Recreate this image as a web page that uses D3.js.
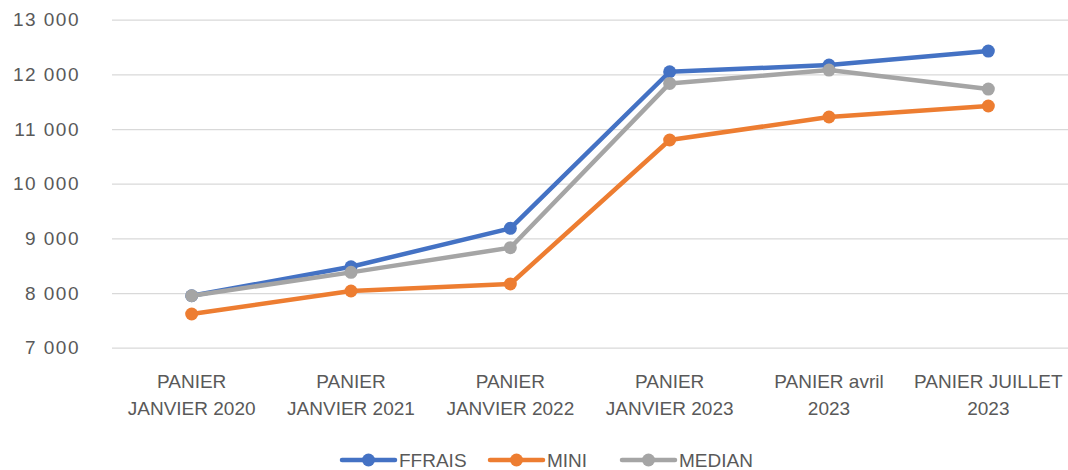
<!DOCTYPE html>
<html><head><meta charset="utf-8">
<script src="https://cdn.jsdelivr.net/npm/d3@7"></script>
<style>body{margin:0;background:#fff}svg{display:block}text{font-family:"Liberation Sans",Arial,sans-serif;fill:#595959}</style>
</head><body><svg id="c" width="1068" height="470"></svg>
<script>
const categories = [["PANIER","JANVIER 2020"],["PANIER","JANVIER 2021"],["PANIER","JANVIER 2022"],["PANIER","JANVIER 2023"],["PANIER avril","2023"],["PANIER JUILLET","2023"]];
const seriesNames = ["FFRAIS","MINI","MEDIAN"];
const ffrais = [7950, 8480, 9183, 12048, 12170, 12426];
const mini = [7616, 8037, 8165, 10799, 11220, 11421];
const median = [7950, 8378, 8829, 11835, 12079, 11731];
const yTicks = [7000, 8000, 9000, 10000, 11000, 12000, 13000];
const colors = ["#4472C4", "#ED7D31", "#A5A5A5"];

const svg = d3.select("#c");
const x = d3.scaleBand().domain(d3.range(categories.length)).range([112, 1068]);
const y = d3.scaleLinear().domain([7000, 13000]).range([347.7, 19.7]);
const fmt = v => d3.format(",")(v).replace(",", " ");

const yAxis = svg.append("g").attr("transform", "translate(112,0)")
  .call(d3.axisLeft(y).tickValues(yTicks).tickSize(-956).tickFormat(fmt).tickPadding(32));
yAxis.select(".domain").remove();
yAxis.selectAll("line").attr("stroke", "#d9d9d9").attr("stroke-width", 1.3);
yAxis.selectAll("text").attr("font-size", 19).attr("letter-spacing", 1.5)
  .style("font-family", "'Liberation Sans',Arial,sans-serif").attr("fill", "#595959");

const xg = svg.append("g");
categories.forEach((c, i) => {
  const cx = x(i) + x.bandwidth() / 2;
  const t = xg.append("text").attr("text-anchor", "middle").attr("font-size", 19).attr("y", 388);
  t.append("tspan").attr("x", cx).text(c[0]);
  t.append("tspan").attr("x", cx).attr("dy", 27).text(c[1]);
});

const data = [ffrais, mini, median];
const line = d3.line().x((d, i) => x(i) + x.bandwidth() / 2).y(d => y(d));
data.forEach((s, k) => {
  svg.append("path").datum(s).attr("d", line).attr("fill", "none")
    .attr("stroke", colors[k]).attr("stroke-width", 4.5).attr("stroke-linejoin", "round").attr("stroke-linecap", "round");
  svg.append("g").selectAll("circle").data(s).join("circle")
    .attr("cx", (d, i) => x(i) + x.bandwidth() / 2).attr("cy", d => y(d)).attr("r", 6.5).attr("fill", colors[k]);
});

const legX = [340, 488, 620];
seriesNames.forEach((n, k) => {
  const g = svg.append("g").attr("transform", `translate(${legX[k]},460)`);
  g.append("line").attr("x1", 2).attr("x2", 55).attr("stroke", colors[k]).attr("stroke-width", 4.5).attr("stroke-linecap", "round");
  g.append("circle").attr("cx", 28.5).attr("r", 6.5).attr("fill", colors[k]);
  g.append("text").attr("x", 59).attr("y", 7).attr("font-size", 19).text(n);
});
</script></body></html>
